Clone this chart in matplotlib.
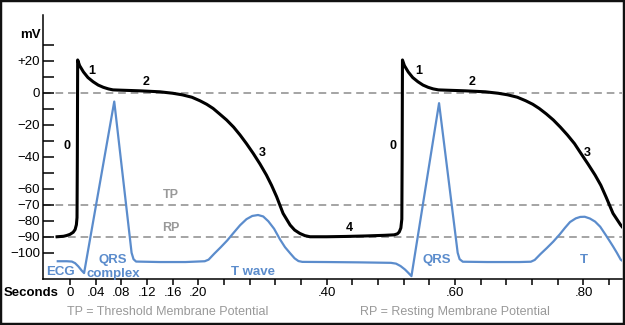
import matplotlib
matplotlib.use("Agg")
import matplotlib.pyplot as plt
from matplotlib.patches import Rectangle

plt.rcParams['font.family'] = ['Liberation Sans', 'DejaVu Sans']

# action potential (mV) over time (s), two beats
ap_t = [-0.020, -0.010, -0.005, 0.000, 0.005, 0.008, 0.010, 0.011, 0.0115, 0.012,
        0.015, 0.021, 0.028, 0.036, 0.044, 0.052, 0.060, 0.067, 0.080, 0.095,
        0.109, 0.125, 0.140, 0.160, 0.175, 0.190, 0.2025, 0.213, 0.223, 0.233,
        0.244, 0.255, 0.265, 0.275, 0.2855, 0.296, 0.306, 0.314, 0.322, 0.332,
        0.343, 0.350, 0.358, 0.366, 0.374, 0.400, 0.430, 0.460, 0.490, 0.505,
        0.510, 0.513, 0.5155, 0.517, 0.5175, 0.518,
        0.521, 0.527, 0.534, 0.542, 0.550, 0.558, 0.566, 0.574, 0.587, 0.602,
        0.616, 0.632, 0.647, 0.667, 0.682, 0.697, 0.710, 0.721, 0.731, 0.742,
        0.753, 0.764, 0.775, 0.786, 0.796, 0.807, 0.818, 0.827, 0.835, 0.846,
        0.858, 0.866]
ap_mv = [-90.0, -89.7, -89.2, -88.5, -87.2, -85.5, -82.5, -78.0, -40.0, 20.5,
         17.0, 13.0, 9.5, 6.9, 4.8, 3.4, 2.4, 1.8, 1.6, 1.4,
         1.2, 0.9, 0.6, -0.3, -1.3, -2.8, -5.0, -7.2, -9.8, -13.2,
         -17.0, -21.5, -26.4, -31.8, -37.9, -44.5, -51.4, -57.8, -65.0, -75.4,
         -82.7, -85.8, -87.9, -89.3, -90.0, -90.0, -89.8, -89.5, -89.1, -88.8,
         -88.2, -87.0, -84.5, -79.0, -40.0, 20.5,
         17.0, 13.0, 9.5, 6.9, 4.8, 3.4, 2.4, 1.8, 1.6, 1.4,
         1.2, 0.9, 0.6, -0.3, -1.3, -2.8, -5.0, -7.2, -9.8, -13.2,
         -17.0, -21.5, -26.4, -31.8, -37.9, -44.5, -51.4, -57.8, -65.0, -75.4,
         -82.7, -86.5]

# ECG trace drawn on the same scale
ecg_t = [-0.019, -0.005, 0.003, 0.008, 0.013, 0.018, 0.022, 0.069, 0.096, 0.099,
         0.103, 0.140, 0.180, 0.210, 0.216, 0.225, 0.235, 0.245, 0.255, 0.265,
         0.275, 0.284, 0.293, 0.301, 0.309, 0.318, 0.327, 0.335, 0.343, 0.350,
         0.356, 0.362, 0.400, 0.450, 0.500, 0.508, 0.515, 0.522, 0.527, 0.532,
         0.575, 0.604, 0.607, 0.612, 0.650, 0.700, 0.718, 0.724, 0.733, 0.743,
         0.753, 0.763, 0.771, 0.779, 0.788, 0.795, 0.802, 0.810, 0.818, 0.826,
         0.834, 0.840, 0.846, 0.852, 0.858, 0.864]
ecg_mv = [-105.3, -105.3, -105.5, -106.5, -108.5, -111.0, -112.7, -5.5, -100.0, -104.0,
          -105.5, -105.8, -105.8, -105.3, -104.3, -100.5, -96.5, -92.3, -87.5, -82.8,
          -79.0, -77.0, -76.4, -77.3, -80.3, -85.0, -91.5, -96.5, -100.3, -103.5,
          -105.2, -105.7, -105.8, -106.0, -106.3, -106.8, -108.3, -110.5, -112.5, -114.6,
          -6.5, -100.0, -104.0, -105.6, -105.8, -105.8, -105.6, -104.5, -100.8, -97.0,
          -93.0, -88.5, -84.5, -80.8, -78.5, -77.6, -77.5, -78.6, -80.5, -83.7,
          -88.5, -92.2, -96.0, -100.0, -104.3, -106.0]

ref_levels = [0, -70, -90]

ytick_major = [20, 0, -20, -40, -60, -70, -80, -90, -100]
ytick_labels = ['+20', '0', '\u221220', '\u221240', '\u221260', '\u221270', '\u221280', '\u221290', '\u2212100']
ytick_minor = [30, 10, -10, -30, -50]

xtick_vals = [0.00, 0.04, 0.08, 0.12, 0.16, 0.20, 0.24, 0.28, 0.32, 0.36, 0.40,
              0.44, 0.48, 0.52, 0.56, 0.60, 0.64, 0.68, 0.72, 0.76, 0.80, 0.84]
xtick_labels = ['0', '.04', '.08', '.12', '.16', '.20', '', '', '', '', '.40',
                '', '', '', '', '.60', '', '', '', '', '.80', '']

phase_labels = [('0', -0.005, -33), ('1', 0.034, 13.5), ('2', 0.118, 7), ('3', 0.299, -37.5),
                ('4', 0.435, -84.5), ('0', 0.504, -33), ('1', 0.544, 13.5), ('2', 0.627, 7),
                ('3', 0.806, -37.5)]
level_labels = [('TP', 0.157, -64), ('RP', 0.157, -84.5)]
ecg_labels = [('ECG', -0.014, -112), ('QRS', 0.067, -104.5), ('complex', 0.067, -113),
              ('T wave', 0.285, -112), ('QRS', 0.572, -104.5), ('T', 0.801, -104.5)]

ecg_color = '#5b8ccc'
gray = '#999999'

fig = plt.figure(figsize=(6.25, 3.25), dpi=100)
ax = fig.add_axes([43 / 625, 46 / 325, 579 / 625, 264 / 325])

for lvl in ref_levels:
    ax.axhline(lvl, color='#8c8c8c', lw=1.1, ls=(0, (5, 3.2)), zorder=1)

ax.plot(ecg_t, ecg_mv, color=ecg_color, lw=1.6, zorder=2)
ax.plot(ap_t, ap_mv, color='black', lw=2.2, zorder=3, solid_joinstyle='round')

for s, x, y in phase_labels:
    ax.text(x, y, s, fontsize=9, fontweight='bold', ha='center', va='center')
for s, x, y in level_labels:
    ax.text(x, y, s, fontsize=9, fontweight='bold', color=gray, ha='center', va='center')
for s, x, y in ecg_labels:
    ax.text(x, y, s, fontsize=9.5, fontweight='bold', color=ecg_color, ha='center', va='center')

ax.set_xlim(-0.042, 0.86)
ax.set_ylim(-116.4, 48.6)

ax.set_yticks(ytick_major)
ax.set_yticklabels(ytick_labels, fontsize=9.5)
ax.set_yticks(ytick_minor, minor=True)
ax.tick_params(axis='y', which='both', direction='in', length=8, width=1.1, pad=2)
ax.set_xticks(xtick_vals)
ax.set_xticklabels(xtick_labels, fontsize=9.5)
ax.tick_params(axis='x', direction='out', length=4, width=1.1, pad=2)

for side in ['top', 'right']:
    ax.spines[side].set_visible(False)
for side in ['left', 'bottom']:
    ax.spines[side].set_linewidth(1.1)

fig.text(31 / 625, 1 - 293 / 325, 'Seconds', fontsize=9.5, fontweight='bold', ha='center', va='center')
fig.text(41 / 625, 1 - 35 / 325, 'mV', fontsize=9.5, fontweight='bold', ha='right', va='center')
fig.text(67 / 625, 1 - 312 / 325, 'TP = Threshold Membrane Potential', fontsize=9, color=gray, ha='left', va='center')
fig.text(360 / 625, 1 - 312 / 325, 'RP = Resting Membrane Potential', fontsize=9, color=gray, ha='left', va='center')

# frame round the whole picture
fig.patches.append(Rectangle((0, 0), 1, 1, transform=fig.transFigure, fill=False,
                             edgecolor='#111111', lw=3.2, zorder=10))

fig.savefig('out.png', dpi=100)
